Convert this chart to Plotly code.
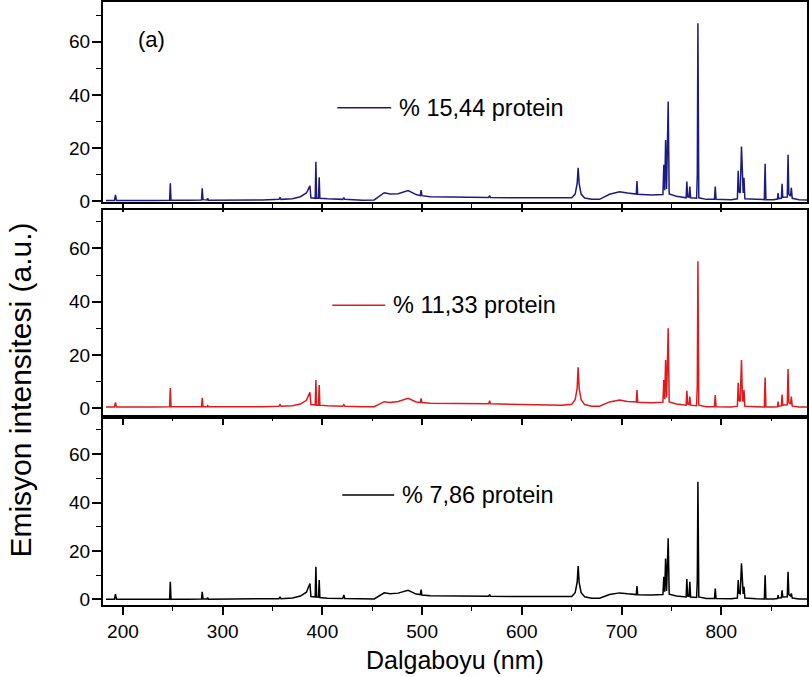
import plotly.graph_objects as go

# Shared wavelength vertices (nm) and intensities (a.u.)
wavelength = [183, 191.5, 192.5, 193.5, 230, 246.8, 247.5, 248.2, 265, 278.8, 279.5, 280.3,
              284.3, 285, 285.7, 310, 340, 356.5, 357.5, 358.5, 370, 378, 384, 387.5, 388.5,
              392.8, 393.5, 394.2, 396.1, 396.8, 397.5, 405, 420.5, 421.5, 422.5, 440, 452,
              462, 468, 476, 486, 494, 498.2, 499, 499.8, 508, 540, 566.8, 567.7, 568.6, 600,
              640, 650, 653.5, 655.5, 656.5, 657.5, 659.5, 663, 670, 678, 688, 698, 706,
              714.8, 715.5, 716.2, 730, 741.5, 742.4, 743.3, 744.2, 745.2, 746.8, 747.8, 755,
              764.8, 765.5, 766.3, 767.7, 768.5, 769.3, 775.3, 776.0, 776.6, 777.5, 785,
              793.2, 794, 794.8, 810, 816.2, 817, 817.7, 819.0, 820.3, 821.3, 822.0, 822.8,
              823.7, 835, 843.2, 844, 844.8, 852, 856.4, 857, 857.6, 860.3, 861, 861.7,
              866.2, 867, 867.8, 869.5, 870.3, 871.2, 878, 886]

protein_15_44 = [0.2, 0.2, 2.3, 0.2, 0.2, 0.3, 6.7, 0.3, 0.3, 0.4, 4.8, 0.5,
                 0.4, 1.0, 0.3, 0.3, 0.4, 0.6, 1.4, 0.6, 0.8, 1.6, 3.0, 5.7, 1.2,
                 1.0, 14.8, 1.0, 1.0, 8.9, 1.0, 0.8, 0.6, 1.3, 0.6, 0.3, 0.4,
                 3.1, 2.6, 2.7, 3.9, 2.4, 2.0, 4.1, 2.0, 1.6, 1.4, 1.3, 2.0, 1.3, 1.2,
                 1.0, 1.2, 2.6, 6.5, 12.5, 6.5, 2.6, 1.1, 0.6, 0.6, 2.5, 3.5, 3.0,
                 2.6, 7.5, 2.5, 2.2, 2.4, 13.6, 4.0, 23.0, 4.5, 37.5, 2.6, 1.8,
                 1.2, 7.3, 1.6, 1.4, 5.4, 1.2, 1.0, 10.0, 67.0, 1.2, 0.6,
                 0.6, 5.4, 0.6, 0.5, 0.8, 11.4, 3.5, 3.0, 20.5, 3.5, 3.0, 8.7,
                 0.8, 0.6, 0.5, 14.0, 0.5, 0.5, 0.7, 3.0, 0.9, 1.0, 6.5, 1.4,
                 1.5, 17.4, 2.5, 1.8, 5.0, 1.0, 0.5, 0.4]

protein_11_33 = [0.5, 0.5, 2.2, 0.5, 0.5, 0.6, 7.6, 0.6, 0.6, 0.6, 3.9, 0.6,
                 0.6, 1.0, 0.6, 0.5, 0.6, 0.8, 1.4, 0.8, 1.0, 1.6, 3.0, 6.0, 1.4,
                 1.3, 10.6, 1.2, 1.2, 8.7, 1.2, 1.0, 0.8, 1.4, 0.8, 0.6, 0.6,
                 2.5, 2.2, 2.6, 3.75, 2.4, 2.2, 3.75, 2.2, 1.9, 1.8, 1.7, 2.9, 1.7, 1.4,
                 1.2, 1.5, 3.2, 7.5, 15.4, 7.5, 3.2, 1.4, 0.8, 0.8, 2.4, 3.1, 2.6,
                 2.4, 6.9, 2.3, 2.1, 2.3, 10.6, 3.5, 18.1, 4.0, 30.0, 2.4, 1.6,
                 1.2, 6.6, 1.6, 1.4, 4.4, 1.2, 1.0, 9.0, 55.2, 1.2, 0.6,
                 0.6, 5.0, 0.6, 0.5, 0.8, 9.6, 3.0, 2.6, 18.1, 3.2, 2.6, 6.9,
                 0.8, 0.6, 0.5, 11.6, 0.5, 0.5, 0.6, 2.5, 0.8, 0.9, 5.2, 1.2,
                 1.3, 14.7, 2.2, 1.6, 4.4, 0.8, 0.5, 0.5]

protein_7_86 = [0.1, 0.1, 2.2, 0.1, 0.1, 0.1, 7.3, 0.1, 0.1, 0.2, 3.1, 0.2,
                0.2, 0.8, 0.1, 0.1, 0.2, 0.3, 1.1, 0.3, 0.6, 1.4, 3.0, 6.6, 1.2,
                1.0, 13.5, 1.0, 0.9, 8.0, 0.8, 0.5, 0.4, 1.8, 0.4, 0.1, 0.2,
                2.7, 2.3, 2.6, 3.8, 2.2, 2.0, 4.1, 1.8, 1.5, 1.4, 1.3, 2.0, 1.3, 1.2,
                1.0, 1.2, 2.8, 7.0, 13.8, 7.0, 2.8, 1.1, 0.5, 0.5, 2.0, 2.7, 2.3,
                2.0, 5.5, 1.9, 1.8, 2.0, 9.3, 3.2, 16.9, 3.5, 25.2, 2.2, 1.4,
                1.0, 8.4, 1.4, 1.3, 7.3, 1.0, 0.8, 8.0, 48.6, 1.0, 0.4,
                0.4, 4.5, 0.4, 0.3, 0.6, 8.0, 2.6, 2.3, 14.9, 2.8, 2.3, 5.2,
                0.6, 0.3, 0.2, 10.0, 0.2, 0.2, 0.4, 1.8, 0.6, 0.7, 3.8, 1.0,
                1.1, 11.4, 2.0, 1.4, 2.5, 0.6, 0.2, 0.2]

series_labels = ["% 15,44 protein", "% 11,33 protein", "% 7,86 protein"]
series_colors = ["#1c1c80", "#e0191c", "#000000"]
y_ticks = [0, 20, 40, 60]

FONT = "Liberation Sans, Arial, sans-serif"

fig = go.Figure()
series = [protein_15_44, protein_11_33, protein_7_86]
axis_ids = ["3", "2", ""]  # top, middle, bottom
for vals, col, aid in zip(series, series_colors, axis_ids):
    fig.add_trace(go.Scatter(x=wavelength, y=vals, mode="lines",
                             line=dict(color=col, width=1.5),
                             xaxis="x" + aid, yaxis="y" + aid,
                             showlegend=False, hoverinfo="skip"))

xcommon = dict(range=[180, 886], showline=True, linewidth=2, linecolor="black",
               mirror=True, ticks="outside", ticklen=8, tickwidth=1.5, tickcolor="black",
               tick0=200, dtick=100, showgrid=False, zeroline=False,
               minor=dict(ticks="outside", ticklen=4, tickwidth=1.2, tickcolor="black",
                          dtick=50, tick0=150, showgrid=False),
               tickfont=dict(family=FONT, size=19, color="black"))
ycommon = dict(showline=True, linewidth=2, linecolor="black", mirror=True,
               ticks="outside", ticklen=9, tickwidth=1.5, tickcolor="black",
               tickvals=y_ticks, showgrid=False, zeroline=False, ticklabelstandoff=-2,
               minor=dict(ticks="outside", ticklen=5, tickwidth=1.2, tickcolor="black",
                          dtick=10, tick0=0, showgrid=False),
               tickfont=dict(family=FONT, size=19, color="black"))

fig.update_layout(
    width=809, height=677,
    margin=dict(l=103, r=0, t=2, b=72),
    paper_bgcolor="white", plot_bgcolor="white",
    font=dict(family=FONT, color="black"),
    xaxis=dict(xcommon, domain=[0, 1], anchor="y"),
    xaxis2=dict(xcommon, domain=[0, 1], anchor="y2", matches="x", showticklabels=False),
    xaxis3=dict(xcommon, domain=[0, 1], anchor="y3", matches="x", showticklabels=False),
    yaxis=dict(ycommon, domain=[0, 0.3085], range=[-2.3, 74.5], anchor="x"),
    yaxis2=dict(ycommon, domain=[0.3151, 0.6551], range=[-2.5, 74.4], anchor="x2"),
    yaxis3=dict(ycommon, domain=[0.6683, 1.0], range=[-0.4, 75], anchor="x3"),
)

# legend-like samples inside each panel
legend_pos = [(415, 469, 35.1, "3"), (410, 463, 38.7, "2"), (420, 472, 43.1, "")]
for (x0, x1, yv, aid), lab, col in zip(legend_pos, series_labels, series_colors):
    fig.add_shape(type="line", x0=x0, x1=x1, y0=yv, y1=yv,
                  xref="x" + aid, yref="y" + aid, line=dict(color=col, width=1.5))
    fig.add_annotation(x=x1 + 6, y=yv, xref="x" + aid, yref="y" + aid, text=lab,
                       showarrow=False, xanchor="left", yanchor="middle",
                       font=dict(family=FONT, size=23.5, color="black"))

fig.add_annotation(x=213, y=60.8, xref="x3", yref="y3", text="(a)", showarrow=False,
                   xanchor="left", yanchor="middle",
                   font=dict(family=FONT, size=22, color="black"))

fig.add_annotation(x=-0.117, y=0.3566, xref="paper", yref="paper",
                   text="Emisyon intensitesi (a.u.)", textangle=-90, showarrow=False,
                   xanchor="center", yanchor="middle",
                   font=dict(family=FONT, size=30, color="black"))
fig.add_annotation(x=533, y=-0.0912, xref="x", yref="paper", text="Dalgaboyu (nm)",
                   showarrow=False, xanchor="center", yanchor="middle",
                   font=dict(family=FONT, size=25, color="black"))

fig.write_html("out.html")
